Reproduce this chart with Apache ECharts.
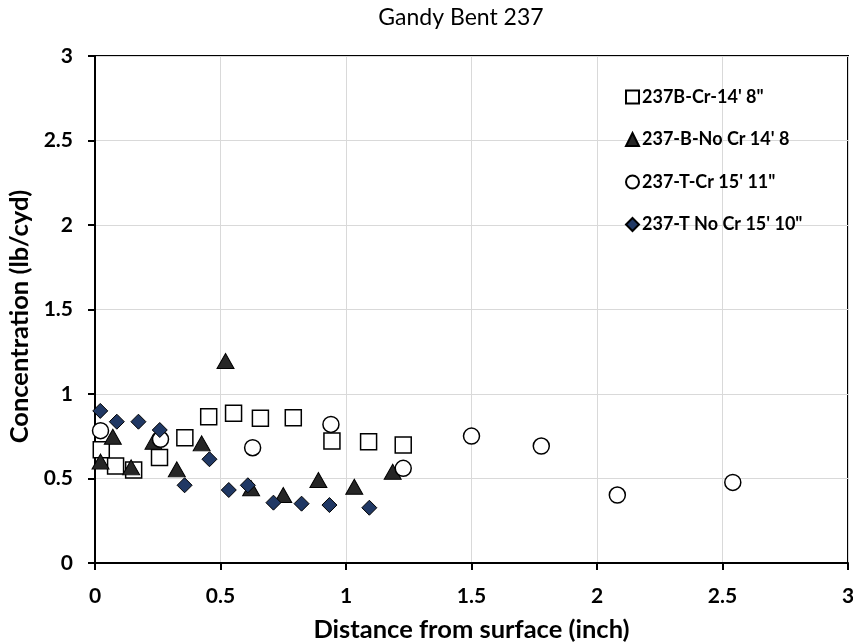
<!DOCTYPE html>
<html><head><meta charset="utf-8">
<script src="https://cdn.jsdelivr.net/npm/echarts@6/dist/echarts.min.js"></script>
<style>html,body{margin:0;padding:0;background:#fff}#c{width:853px;height:644px}</style>
</head><body><div id="c"></div>
<script>
const titleText = "Gandy Bent 237";
const xTitle = "Distance from surface (inch)";
const yTitle = "Concentration (lb/cyd)";
const seriesNames = ["237B-Cr-14' 8\"", "237-B-No Cr 14' 8", "237-T-Cr 15' 11\"", "237-T No Cr 15' 10\""];

const sqX = [0.025, 0.082, 0.154, 0.257, 0.358, 0.453, 0.552, 0.659, 0.79, 0.944, 1.09, 1.228];
const sqY = [0.67, 0.574, 0.55, 0.625, 0.741, 0.866, 0.886, 0.856, 0.86, 0.722, 0.718, 0.698];

const trX = [0.022, 0.071, 0.144, 0.233, 0.326, 0.425, 0.52, 0.622, 0.75, 0.89, 1.033, 1.186];
const trY = [0.60, 0.747, 0.566, 0.718, 0.554, 0.708, 1.195, 0.442, 0.402, 0.491, 0.451, 0.54];

const ciX = [0.022, 0.261, 0.628, 0.94, 1.228, 1.5, 1.778, 2.081, 2.541];
const ciY = [0.783, 0.732, 0.682, 0.82, 0.56, 0.751, 0.692, 0.402, 0.477];

const diX = [0.021, 0.087, 0.173, 0.258, 0.357, 0.456, 0.533, 0.609, 0.711, 0.823, 0.934, 1.093];
const diY = [0.90, 0.836, 0.836, 0.787, 0.46, 0.614, 0.432, 0.46, 0.357, 0.351, 0.343, 0.327];

const xTicks = [0, 3, 0.5];
const yTicks = [0, 3, 0.5];

function pts(xs, ys){ return xs.map((x,i)=>[x, ys[i]]); }

const FONT = 'Lato';
const chart = echarts.init(document.getElementById('c'), null, {renderer:'canvas'});
chart.setOption({
  animation: false,
  backgroundColor: '#fff',
  title: {
    text: titleText, left: 456, top: 1, textAlign: 'center',
    textStyle: {fontFamily: FONT, fontWeight: 'normal', fontSize: 23, color: '#000'}
  },
  legend: {
    orient: 'vertical', left: 620, top: 83, itemGap: 24.5,
    itemWidth: 13, itemHeight: 13,
    textStyle: {fontFamily: FONT, fontWeight: 'bold', fontSize: 18, color: '#000', padding: [0,0,0,-2]},
    data: seriesNames
  },
  grid: {left: 95, right: 5, top: 56, bottom: 81, containLabel: false, outerBoundsMode: 'none',
         show: true, borderColor: '#000', borderWidth: 2, backgroundColor: 'transparent'},
  xAxis: {
    type: 'value', min: xTicks[0], max: xTicks[1], interval: xTicks[2],
    name: xTitle, nameLocation: 'middle', nameGap: 54,
    nameTextStyle: {fontFamily: FONT, fontWeight: 'bold', fontSize: 25.5, color: '#000'},
    axisLine: {show: true, lineStyle: {color: '#000', width: 2}},
    axisTick: {show: true, length: 7, lineStyle: {color: '#000', width: 2}},
    axisLabel: {fontFamily: FONT, fontWeight: 'bold', fontSize: 21, color: '#000', margin: 23},
    splitLine: {show: true, lineStyle: {color: '#d9d9d9', width: 1}}
  },
  yAxis: {
    type: 'value', min: yTicks[0], max: yTicks[1], interval: yTicks[2],
    name: yTitle, nameLocation: 'middle', nameGap: 42,
    nameTextStyle: {fontFamily: FONT, fontWeight: 'bold', fontSize: 25.5, color: '#000', padding: [0, 14, 0, 0]},
    axisLine: {show: true, lineStyle: {color: '#000', width: 2}},
    axisTick: {show: true, length: 7, lineStyle: {color: '#000', width: 2}},
    axisLabel: {fontFamily: FONT, fontWeight: 'bold', fontSize: 21, color: '#000', margin: 22},
    splitLine: {show: true, lineStyle: {color: '#d9d9d9', width: 1}}
  },
  series: [
    {name: seriesNames[0], type: 'scatter', symbol: 'rect', symbolSize: 16,
     itemStyle: {color: '#fff', borderColor: '#000', borderWidth: 1.5, opacity: 1}, data: pts(sqX, sqY)},
    {name: seriesNames[1], type: 'scatter', symbol: 'triangle', symbolSize: [17, 15],
     itemStyle: {color: '#262626', borderColor: '#000', borderWidth: 1, opacity: 1}, data: pts(trX, trY)},
    {name: seriesNames[2], type: 'scatter', symbol: 'circle', symbolSize: 16,
     itemStyle: {color: '#fff', borderColor: '#000', borderWidth: 1.5, opacity: 1}, data: pts(ciX, ciY)},
    {name: seriesNames[3], type: 'scatter', symbol: 'diamond', symbolSize: 15,
     itemStyle: {color: '#203864', borderColor: '#000', borderWidth: 1, opacity: 1}, data: pts(diX, diY)}
  ]
});
</script>
</body></html>
